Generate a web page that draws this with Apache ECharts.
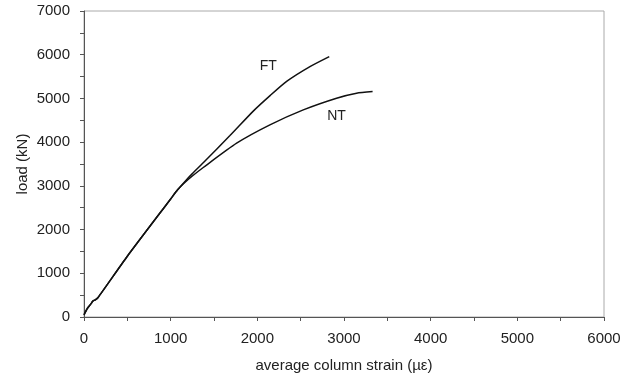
<!DOCTYPE html>
<html>
<head>
<meta charset="utf-8">
<script src="https://cdn.jsdelivr.net/npm/echarts@6/dist/echarts.min.js"></script>
<style>
  html, body { margin: 0; padding: 0; background: #fff; }
  #chart { width: 635px; height: 379px; }
</style>
</head>
<body>
<div id="chart"></div>
<script>
var chartDom = document.getElementById('chart');
var myChart = echarts.init(chartDom);

// shared initial (linear) part of both curves: [strain, load]
var common = [
  [0, 50], [40, 200], [80, 300], [100, 360], [115, 380], [130, 392],
  [160, 440], [500, 1390], [1000, 2700], [1080, 2910]
];
var ftTail = [
  [1160, 3090], [1250, 3280], [1376, 3530], [1684, 4150], [1953, 4710],
  [2150, 5070], [2338, 5390], [2607, 5728], [2830, 5957]
];
var ntTail = [
  [1160, 3070], [1250, 3225], [1376, 3420], [1761, 3975], [2145, 4394],
  [2530, 4737], [2914, 5004], [3145, 5119], [3330, 5156]
];
var ftData = common.concat(ftTail);
var ntData = common.concat(ntTail);

var labelFont = 'Liberation Sans, Arial, sans-serif';

var option = {
  animation: false,
  grid: {
    left: 84, right: 31, top: 11, bottom: 62,
    show: true, borderColor: '#aaa', borderWidth: 1
  },
  xAxis: {
    type: 'value',
    min: 0, max: 6000, interval: 1000,
    name: 'average column strain (µε)',
    nameLocation: 'middle', nameGap: 41,
    nameTextStyle: { fontFamily: labelFont, fontSize: 15, color: '#222' },
    axisLine: { lineStyle: { color: '#555' } },
    axisTick: { length: 4, lineStyle: { color: '#555' } },
    minorTick: { show: true, splitNumber: 2, length: 4, lineStyle: { color: '#555' } },
    axisLabel: { fontFamily: labelFont, fontSize: 15, color: '#222', margin: 14,
                 formatter: function (v) { return String(v); } },
    splitLine: { show: false }
  },
  yAxis: {
    type: 'value',
    min: 0, max: 7000, interval: 1000,
    name: 'load (kN)',
    nameLocation: 'middle', nameGap: 54, nameMoveOverlap: false,
    nameTextStyle: { fontFamily: labelFont, fontSize: 15, color: '#222' },
    axisLine: { show: true, lineStyle: { color: '#555' } },
    axisTick: { show: true, length: 4, lineStyle: { color: '#555' } },
    minorTick: { show: true, splitNumber: 2, length: 4, lineStyle: { color: '#555' } },
    axisLabel: { fontFamily: labelFont, fontSize: 15, color: '#222', margin: 14,
                 formatter: function (v) { return String(v); } },
    splitLine: { show: false }
  },
  series: [
    {
      name: 'FT',
      type: 'line',
      data: ftData,
      smooth: 0.2,
      showSymbol: false,
      lineStyle: { color: '#111', width: 1.5 },
      markPoint: {
        symbol: 'circle', symbolSize: 0,
        label: { show: true, position: 'inside', formatter: '{b}',
                 fontFamily: labelFont, fontSize: 14, color: '#222' },
        data: [{ name: 'FT', coord: [2126, 5728] }]
      }
    },
    {
      name: 'NT',
      type: 'line',
      data: ntData,
      smooth: 0.2,
      showSymbol: false,
      lineStyle: { color: '#111', width: 1.5 },
      markPoint: {
        symbol: 'circle', symbolSize: 0,
        label: { show: true, position: 'inside', formatter: '{b}',
                 fontFamily: labelFont, fontSize: 14, color: '#222' },
        data: [{ name: 'NT', coord: [2914, 4584] }]
      }
    }
  ]
};

myChart.setOption(option);
window.addEventListener('resize', () => myChart.resize());
</script>
</body>
</html>
